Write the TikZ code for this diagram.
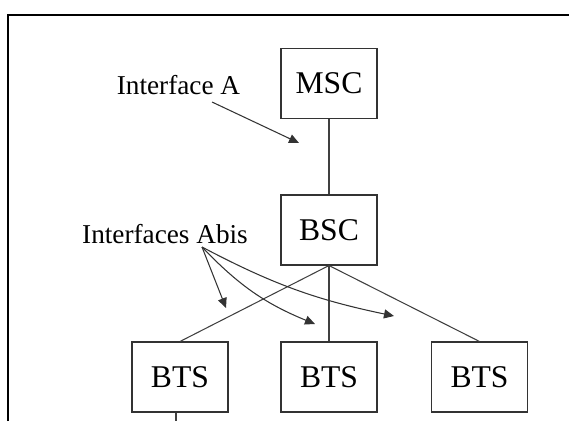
\documentclass[tikz,border=0pt]{standalone}
\usepackage{fontspec}
\setmainfont{Liberation Serif}
\usetikzlibrary{arrows.meta}
\tikzset{
    box/.style={rectangle, draw=black!80, line width=0.6pt, minimum width=1.92cm, minimum height=1.4cm, inner sep=0mm, font=\fontsize{18}{20}\selectfont},
    tag/.style={inner sep=0mm, font=\fontsize{15.5}{18}\selectfont},
    link/.style={draw=black!75, line width=0.6pt},
    pointer/.style={draw=black!80, line width=0.6pt, -{Triangle[length=2mm, width=1.8mm]}}
}

\begin{document}
\begin{tikzpicture}
  \useasboundingbox (0,0) rectangle (11.38,8.42);
  % frame, cut off at the right and the bottom
  \draw [line width=1.2pt] (0.16,0) -- (0.16,8.12) -- (11.38,8.12);

  \node (msc) [box] at (6.58,6.75) {MSC};
  \node (bsc) [box] at (6.58,3.82) {BSC};
  \node (bts1) [box] at (3.60,0.88) {BTS};
  \node (bts2) [box] at (6.58,0.88) {BTS};
  \node (bts3) [box] at (9.59,0.88) {BTS};

  \node (ifA) [tag] at (3.57,6.72) {Interface A};
  \node (ifAbis) [tag] at (3.30,3.74) {Interfaces Abis};

  \coordinate (a0) at (4.24,6.38);
  \coordinate (a1) at (5.98,5.56);
  \coordinate (b0) at (4.04,3.48);
  \coordinate (b1) at (4.52,2.26);
  \coordinate (b2) at (6.30,1.94);
  \coordinate (b3) at (7.88,2.10);
  \coordinate (down) at (3.52,0);

  \draw [link] (msc) edge (bsc);
  \draw [link] (bsc.south) edge (bts1.north);
  \draw [link] (bsc.south) edge (bts2.north);
  \draw [link] (bsc.south) edge (bts3.north);
  \draw [link] (bts1.south -| down) -- (down);

  \draw [pointer] (a0) -- (a1);
  \draw [pointer] (b0) -- (b1);
  \draw [pointer] (b0) to [bend right=12] (b2);
  \draw [pointer] (b0) to [bend right=8] (b3);
\end{tikzpicture}
\end{document}
